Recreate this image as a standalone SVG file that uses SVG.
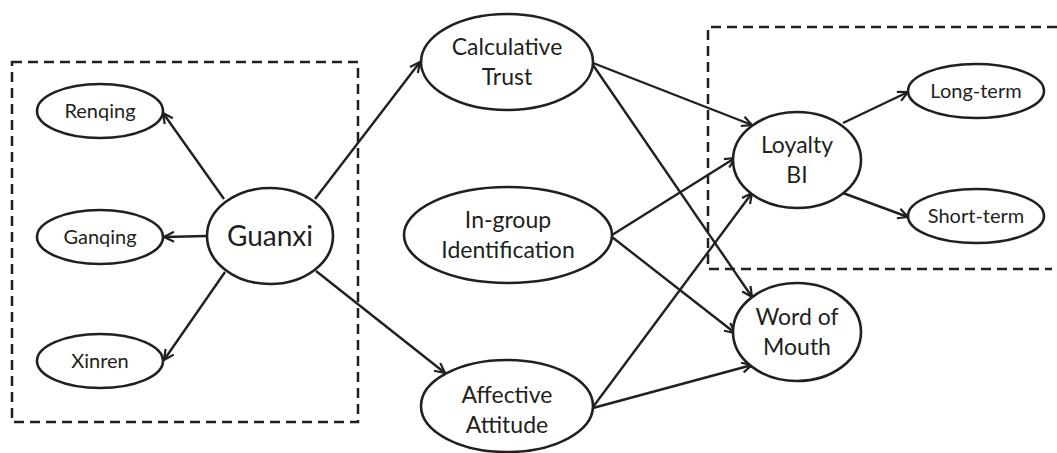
<svg xmlns="http://www.w3.org/2000/svg" width="1057" height="453" viewBox="0 0 1057 453">
<style>
.n{fill:#fff;stroke:#231f20;stroke-width:2.6}
.t{font-family:Lato,"Open Sans",sans-serif;fill:#231f20;text-anchor:middle}
.s{font-size:20px}.m{font-size:23px}.l{font-size:28px}
.c line{stroke:#231f20;stroke-width:2.4;marker-end:url(#a)}
.d{fill:none;stroke:#231f20;stroke-width:2.5;stroke-dasharray:10,6}
</style>
<defs>
<marker id="a" viewBox="0 0 12 12" refX="11" refY="6" markerWidth="12" markerHeight="12" markerUnits="userSpaceOnUse" orient="auto">
<path d="M1,1 L11,6 L1,11" fill="none" stroke="#231f20" stroke-width="2.2"/>
</marker>
</defs>
<g id="groups">
<rect class="d" x="12" y="62" width="346" height="360"/>
<path class="d" d="M1057,27 H708 V269 H1052"/>
</g>
<g class="c" id="connectors">
<line x1="224" y1="199" x2="163" y2="113"/>
<line x1="207" y1="236" x2="164" y2="237"/>
<line x1="225" y1="272" x2="164" y2="360"/>
<line x1="315" y1="199" x2="420" y2="62"/>
<line x1="316" y1="271" x2="445" y2="373"/>
<line x1="593" y1="63" x2="752" y2="125"/>
<line x1="593" y1="65" x2="752" y2="297"/>
<line x1="612" y1="235" x2="735" y2="158"/>
<line x1="612" y1="237" x2="735" y2="333"/>
<line x1="593" y1="407" x2="752" y2="193"/>
<line x1="593" y1="408" x2="752" y2="365"/>
<line x1="843" y1="123" x2="908" y2="92"/>
<line x1="843" y1="193" x2="908" y2="217"/>
</g>
<g id="renqing"><ellipse class="n" cx="100" cy="111" rx="63" ry="27"/><text class="t s" x="100" y="118">Renqing</text></g>
<g id="ganqing"><ellipse class="n" cx="100" cy="237" rx="63" ry="27"/><text class="t s" x="100" y="244">Ganqing</text></g>
<g id="xinren"><ellipse class="n" cx="100" cy="361" rx="63" ry="27"/><text class="t s" x="100" y="368">Xinren</text></g>
<g id="guanxi"><ellipse class="n" cx="270" cy="236" rx="63" ry="48"/><text class="t l" x="270" y="246">Guanxi</text></g>
<g id="calculative-trust"><ellipse class="n" cx="507" cy="62" rx="86" ry="48"/><text class="t m" x="507" y="55">Calculative</text><text class="t m" x="507" y="85">Trust</text></g>
<g id="in-group"><ellipse class="n" cx="508" cy="235" rx="104" ry="48"/><text class="t m" x="508" y="228">In-group</text><text class="t m" x="508" y="258">Identification</text></g>
<g id="affective-attitude"><ellipse class="n" cx="507" cy="406" rx="86" ry="46"/><text class="t m" x="507" y="403">Affective</text><text class="t m" x="507" y="433">Attitude</text></g>
<g id="loyalty-bi"><ellipse class="n" cx="797" cy="160" rx="64" ry="48"/><text class="t m" x="797" y="153">Loyalty</text><text class="t m" x="797" y="183">BI</text></g>
<g id="word-of-mouth"><ellipse class="n" cx="797" cy="332" rx="64" ry="49"/><text class="t m" x="797" y="325">Word of</text><text class="t m" x="797" y="355">Mouth</text></g>
<g id="long-term"><ellipse class="n" cx="976" cy="91" rx="68" ry="27"/><text class="t s" x="976" y="98">Long-term</text></g>
<g id="short-term"><ellipse class="n" cx="976" cy="216" rx="68" ry="27"/><text class="t s" x="976" y="223">Short-term</text></g>
</svg>
